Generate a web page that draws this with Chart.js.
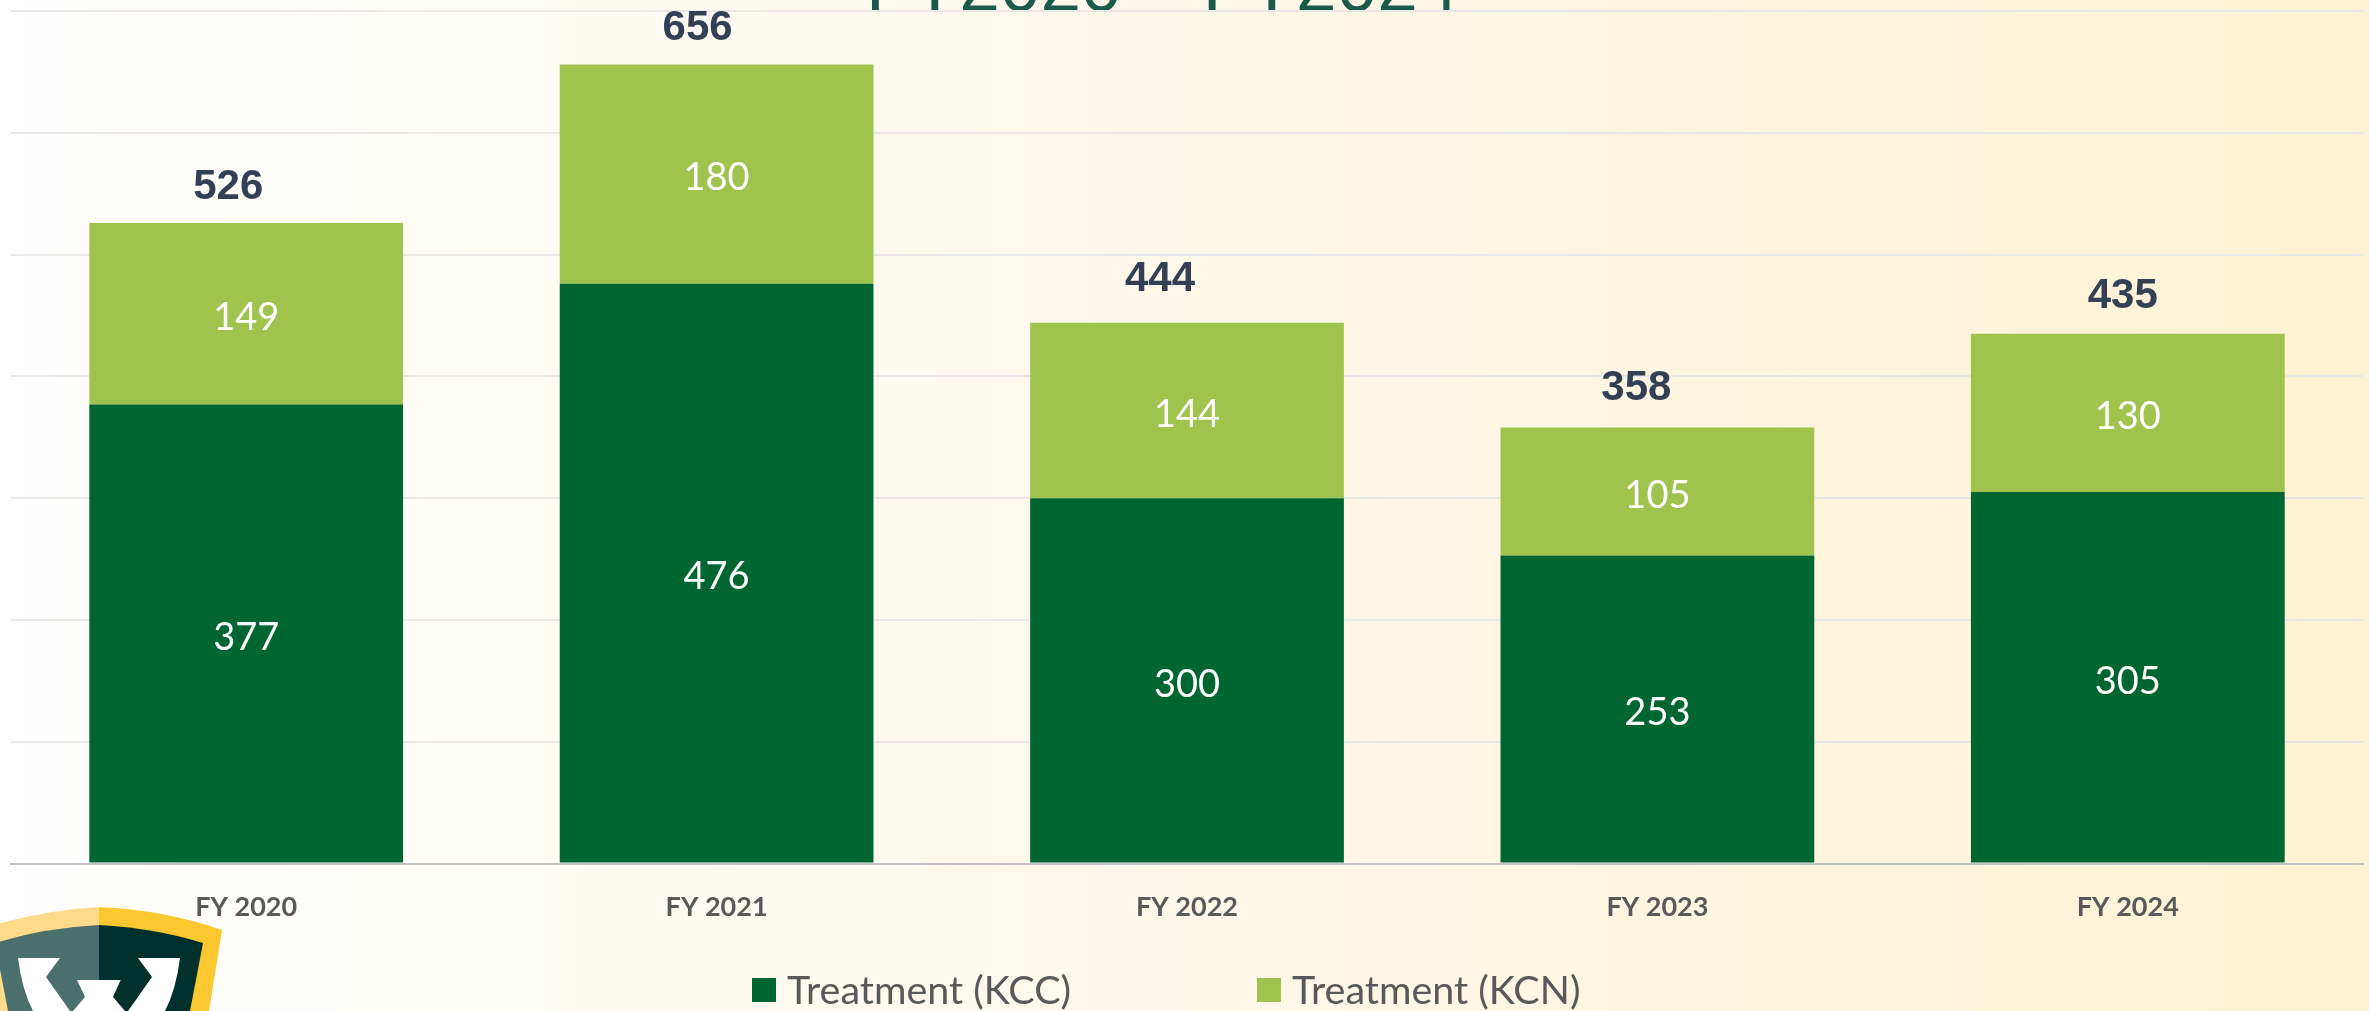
<!DOCTYPE html>
<html>
<head>
<meta charset="utf-8">
<title>FY2020 – FY2024</title>
<script src="https://cdn.jsdelivr.net/npm/chart.js@4"></script>
<style>
  html, body { margin: 0; padding: 0; }
  body {
    position: relative; width: 2369px; height: 1011px; overflow: hidden;
    background: linear-gradient(90deg, #ffffff 0%, #fff8e9 50%, #fef1d5 100%);
  }
  #pageTitle {
    position: absolute; left: 866px; top: -56px; white-space: nowrap;
    font: 73px/84px "Liberation Sans", sans-serif; color: #1a5a4a;
  }
  #chartWrap { position: absolute; left: 0; top: 0; width: 2369px; height: 1011px; }
  #logo { position: absolute; left: 0; top: 890px; }
  #legend { font: 39.5px "Lato", sans-serif; color: #595959; }
  .legItem { position: absolute; top: 968px; line-height: 42px; white-space: nowrap; padding-left: 35px; }
  .legItem i { position: absolute; left: 0; top: 10px; width: 24px; height: 24px; }
</style>
</head>
<body>
<div id="pageTitle">FY2020 – FY2024</div>
<div id="chartWrap"><canvas id="chartTreatment"></canvas></div>
<svg id="logo" width="240" height="121" viewBox="0 890 240 121">
  <path d="M99 907 Q40 910 -23 930 L-10 1011 H99 Z" fill="#fedb8b"/>
  <path d="M99 907 Q165 910 222 930 L209 1011 H99 Z" fill="#fdc82f"/>
  <path d="M99 925 Q43 928 -5 943 L8 1011 H99 Z" fill="#4b6f6c"/>
  <path d="M99 925 Q155 928 203 943 L190 1011 H99 Z" fill="#00302c"/>
  <path d="M138 958 H180 Q176 990 165 1011 H128 L152 977 Z" fill="#fff"/>
  <path d="M60 958 H18 Q22 990 33 1011 H70 L46 977 Z" fill="#fff"/>
  <path d="M77 980 H120.7 L113 997 L125 1011 H73 L85 997 Z" fill="#fff"/>
</svg>
<div id="legend"></div>

<script>
const categories = ["FY 2020", "FY 2021", "FY 2022", "FY 2023", "FY 2024"];
const treatmentKCC = [377, 476, 300, 253, 305];
const treatmentKCN = [149, 180, 144, 105, 130];
const totals = [526, 656, 444, 358, 435];

// totals are loose text boxes in the original, not centered on the bars
const totalOffsetX = [-18, -19, -27, -21, -5];
const totalOffsetY = [36, 36, 43, 39, 37];

const DARK_GREEN = "#006630";
const LIGHT_GREEN = "#9ec44d";

// white numbers inside each bar segment
const segmentLabels = {
  id: "segmentLabels",
  afterDatasetsDraw(chart){
    const ctx = chart.ctx;
    ctx.save();
    ctx.font = '38px "Lato", sans-serif';
    ctx.fillStyle = "#ffffff";
    ctx.textAlign = "center";
    ctx.textBaseline = "middle";
    chart.data.datasets.forEach((ds, i) => {
      chart.getDatasetMeta(i).data.forEach((bar, j) => {
        const c = bar.getCenterPoint();
        ctx.fillText(String(ds.data[j]), c.x, c.y + 4);
      });
    });
    ctx.restore();
  }
};

const totalLabels = {
  id: "totalLabels",
  afterDatasetsDraw(chart){
    const ctx = chart.ctx;
    const top = chart.getDatasetMeta(1).data;
    ctx.save();
    ctx.font = 'bold 42px "Liberation Sans", sans-serif';
    ctx.fillStyle = "#333f55";
    ctx.textAlign = "center";
    ctx.textBaseline = "middle";
    totals.forEach((t, j) => {
      ctx.fillText(String(t), top[j].x + totalOffsetX[j], top[j].y - totalOffsetY[j]);
    });
    ctx.restore();
  }
};

const chartTreatment = new Chart(document.getElementById("chartTreatment"), {
  type: "bar",
  data: {
    labels: categories,
    datasets: [
      { label: "Treatment (KCC)", data: treatmentKCC, backgroundColor: DARK_GREEN },
      { label: "Treatment (KCN)", data: treatmentKCN, backgroundColor: LIGHT_GREEN }
    ]
  },
  options: {
    responsive: true,
    maintainAspectRatio: false,
    animation: false,
    layout: { padding: { left: 11, right: 6, top: 11, bottom: 69 } },
    plugins: { legend: { display: false }, tooltip: { enabled: false } },
    datasets: { bar: { categoryPercentage: 1, barPercentage: 0.667 } },
    scales: {
      x: {
        stacked: true,
        grid: { display: false },
        border: { color: "#c2c2c2", width: 2 },
        ticks: {
          color: "#595959",
          padding: 19,
          font: { family: "Lato", size: 27, weight: "bold" }
        }
      },
      y: {
        stacked: true,
        display: true,
        min: 0,
        max: 700,
        afterFit(scale){ scale.width = 0; },
        ticks: { display: false, stepSize: 100 },
        border: { display: false },
        grid: { color: "#e9e8e6", lineWidth: 2, drawTicks: false }
      }
    }
  },
  plugins: [segmentLabels, totalLabels]
});

// legend sits far apart in the original, so built by hand from the datasets
const legendLeft = [752, 1257];
const legendEl = document.getElementById("legend");
chartTreatment.data.datasets.forEach((ds, i) => {
  legendEl.insertAdjacentHTML("beforeend",
    `<div class="legItem" style="left:${legendLeft[i]}px"><i style="background:${ds.backgroundColor}"></i>${ds.label}</div>`
  );
});
</script>
</body>
</html>
